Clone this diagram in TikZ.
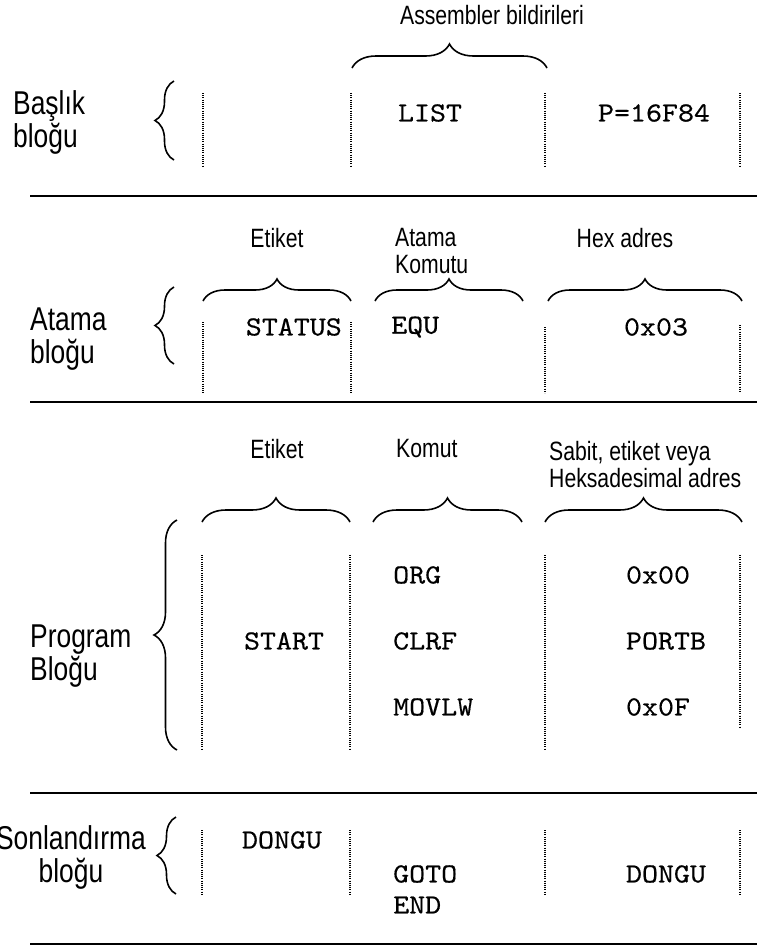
\documentclass[tikz,border=0pt]{standalone}
\usepackage{fontspec}
\setmainfont{Liberation Sans}
\newfontfamily\labfont[FakeStretch=0.8]{Liberation Sans}
\newfontfamily\codefont[FakeStretch=1.1,FakeBold=0.4]{lmmono10-regular.otf}
\usetikzlibrary{decorations.pathreplacing}
\tikzset{
  hrule/.style={line width=2.6pt},
  sepline/.style={line width=1.1pt, dash pattern=on 0.9pt off 1.3pt},
  bracket/.style={decorate, decoration={brace, amplitude=#1}, line width=1.6pt},
  bracket/.default=22pt,
  collabel/.style={font=\labfont\fontsize{26.5}{27}\selectfont, inner sep=0pt, align=left},
  blocklabel/.style={font=\labfont\fontsize{33}{33}\selectfont, inner sep=0pt, align=left},
  code/.style={font=\codefont\fontsize{27.7}{30}\selectfont, inner sep=0pt},
}
\begin{document}
\begin{tikzpicture}[x=1pt,y=1pt]
\useasboundingbox (0,0) rectangle (757,-951);
% ---------- Section 1
\node[collabel] (title) at (492,-15) {Assembler bildirileri};
\coordinate (b1l) at (352,-68); \coordinate (b1r) at (547,-68);
\draw[bracket=24pt] (b1l) -- (b1r);
\node[blocklabel, anchor=west] (lab1) at (13,-122) {Başlık\\bloğu};
\coordinate (lb1b) at (174,-160); \coordinate (lb1t) at (174,-81);
\draw[bracket=19pt] (lb1b) -- (lb1t);
\foreach \x/\n in {203/a,351/b,545/c,740/d}{
  \coordinate (s1\n t) at (\x,-93); \coordinate (s1\n b) at (\x,-167);
  \draw[sepline] (s1\n t) -- (s1\n b);}
\node[code] (list) at (430,-113) {LIST};
\node[code] (proc) at (654,-113) {P=16F84};
\coordinate (r1l) at (30,-196); \coordinate (r1r) at (757,-196);
\draw[hrule] (r1l) -- (r1r);
% ---------- Section 2
\node[collabel] (et2) at (277,-238) {Etiket};
\node[collabel, anchor=west] (atk) at (395,-251) {Atama\\Komutu};
\node[collabel] (hex) at (625,-238) {Hex adres};
\coordinate (b2a) at (203,-301); \coordinate (b2b) at (351,-301);
\coordinate (b2c) at (375,-301); \coordinate (b2d) at (523,-301);
\coordinate (b2e) at (548,-301); \coordinate (b2f) at (742,-301);
\draw[bracket] (b2a) -- (b2b);
\draw[bracket] (b2c) -- (b2d);
\draw[bracket] (b2e) -- (b2f);
\node[blocklabel, anchor=west] (lab2) at (30,-339) {Atama\\bloğu};
\coordinate (lb2b) at (174,-364); \coordinate (lb2t) at (174,-287);
\draw[bracket=19pt] (lb2b) -- (lb2t);
\foreach \x/\y/\n in {203/322/a,351/322/b,545/327/c,740/325/d}{
  \coordinate (s2\n t) at (\x,-\y); \coordinate (s2\n b) at (\x,-393);
  \draw[sepline] (s2\n t) -- (s2\n b);}
\node[code, anchor=east] (status) at (342,-327) {STATUS};
\node[code, anchor=west] (equ) at (391,-327) {EQU};
\node[code] (adr) at (656,-327) {0x03};
\coordinate (r2l) at (30,-402); \coordinate (r2r) at (757,-402);
\draw[hrule] (r2l) -- (r2r);
% ---------- Section 3
\node[collabel] (et3) at (277,-449) {Etiket};
\node[collabel, anchor=west] (kom) at (396,-449) {Komut};
\node[collabel, anchor=west] (sab) at (549,-465) {Sabit, etiket veya\\Heksadesimal adres};
\coordinate (b3a) at (202,-522); \coordinate (b3b) at (350,-522);
\coordinate (b3c) at (373,-522); \coordinate (b3d) at (522,-522);
\coordinate (b3e) at (545,-522); \coordinate (b3f) at (742,-522);
\draw[bracket=24pt] (b3a) -- (b3b);
\draw[bracket=24pt] (b3c) -- (b3d);
\draw[bracket=24pt] (b3e) -- (b3f);
\node[blocklabel, anchor=west] (lab3) at (30,-656) {Program\\Bloğu};
\coordinate (lb3b) at (177,-750); \coordinate (lb3t) at (177,-520);
\draw[bracket=23pt] (lb3b) -- (lb3t);
\foreach \x/\y/\n in {202/750/a,350/750/b,545/750/c,740/727/d}{
  \coordinate (s3\n t) at (\x,-555); \coordinate (s3\n b) at (\x,-\y);
  \draw[sepline] (s3\n t) -- (s3\n b);}
\node[code] (start) at (284,-641) {START};
\node[code, anchor=west] (org) at (393,-575) {ORG};
\node[code, anchor=west] (clrf) at (393,-641) {CLRF};
\node[code, anchor=west] (movlw) at (393,-707) {MOVLW};
\node[code] (v1) at (658,-575) {0x00};
\node[code] (v2) at (666,-641) {PORTB};
\node[code] (v3) at (658,-707) {0x0F};
\coordinate (r3l) at (30,-793); \coordinate (r3r) at (757,-793);
\draw[hrule] (r3l) -- (r3r);
% ---------- Section 4
\node[blocklabel, anchor=east, align=center] (lab4) at (146,-857) {Sonlandırma\\bloğu};
\coordinate (lb4b) at (176,-894); \coordinate (lb4t) at (176,-817);
\draw[bracket=19pt] (lb4b) -- (lb4t);
\foreach \x/\n in {202/a,350/b,545/c,740/d}{
  \coordinate (s4\n t) at (\x,-830); \coordinate (s4\n b) at (\x,-895);
  \draw[sepline] (s4\n t) -- (s4\n b);}
\node[code] (dng1) at (282,-840) {DONGU};
\node[code, anchor=west] (goto) at (393,-874) {GOTO};
\node[code, anchor=west] (end) at (393,-905) {END};
\node[code] (dng2) at (666,-874) {DONGU};
\coordinate (r4l) at (30,-944); \coordinate (r4r) at (757,-944);
\draw[hrule] (r4l) -- (r4r);
\end{tikzpicture}
\end{document}
